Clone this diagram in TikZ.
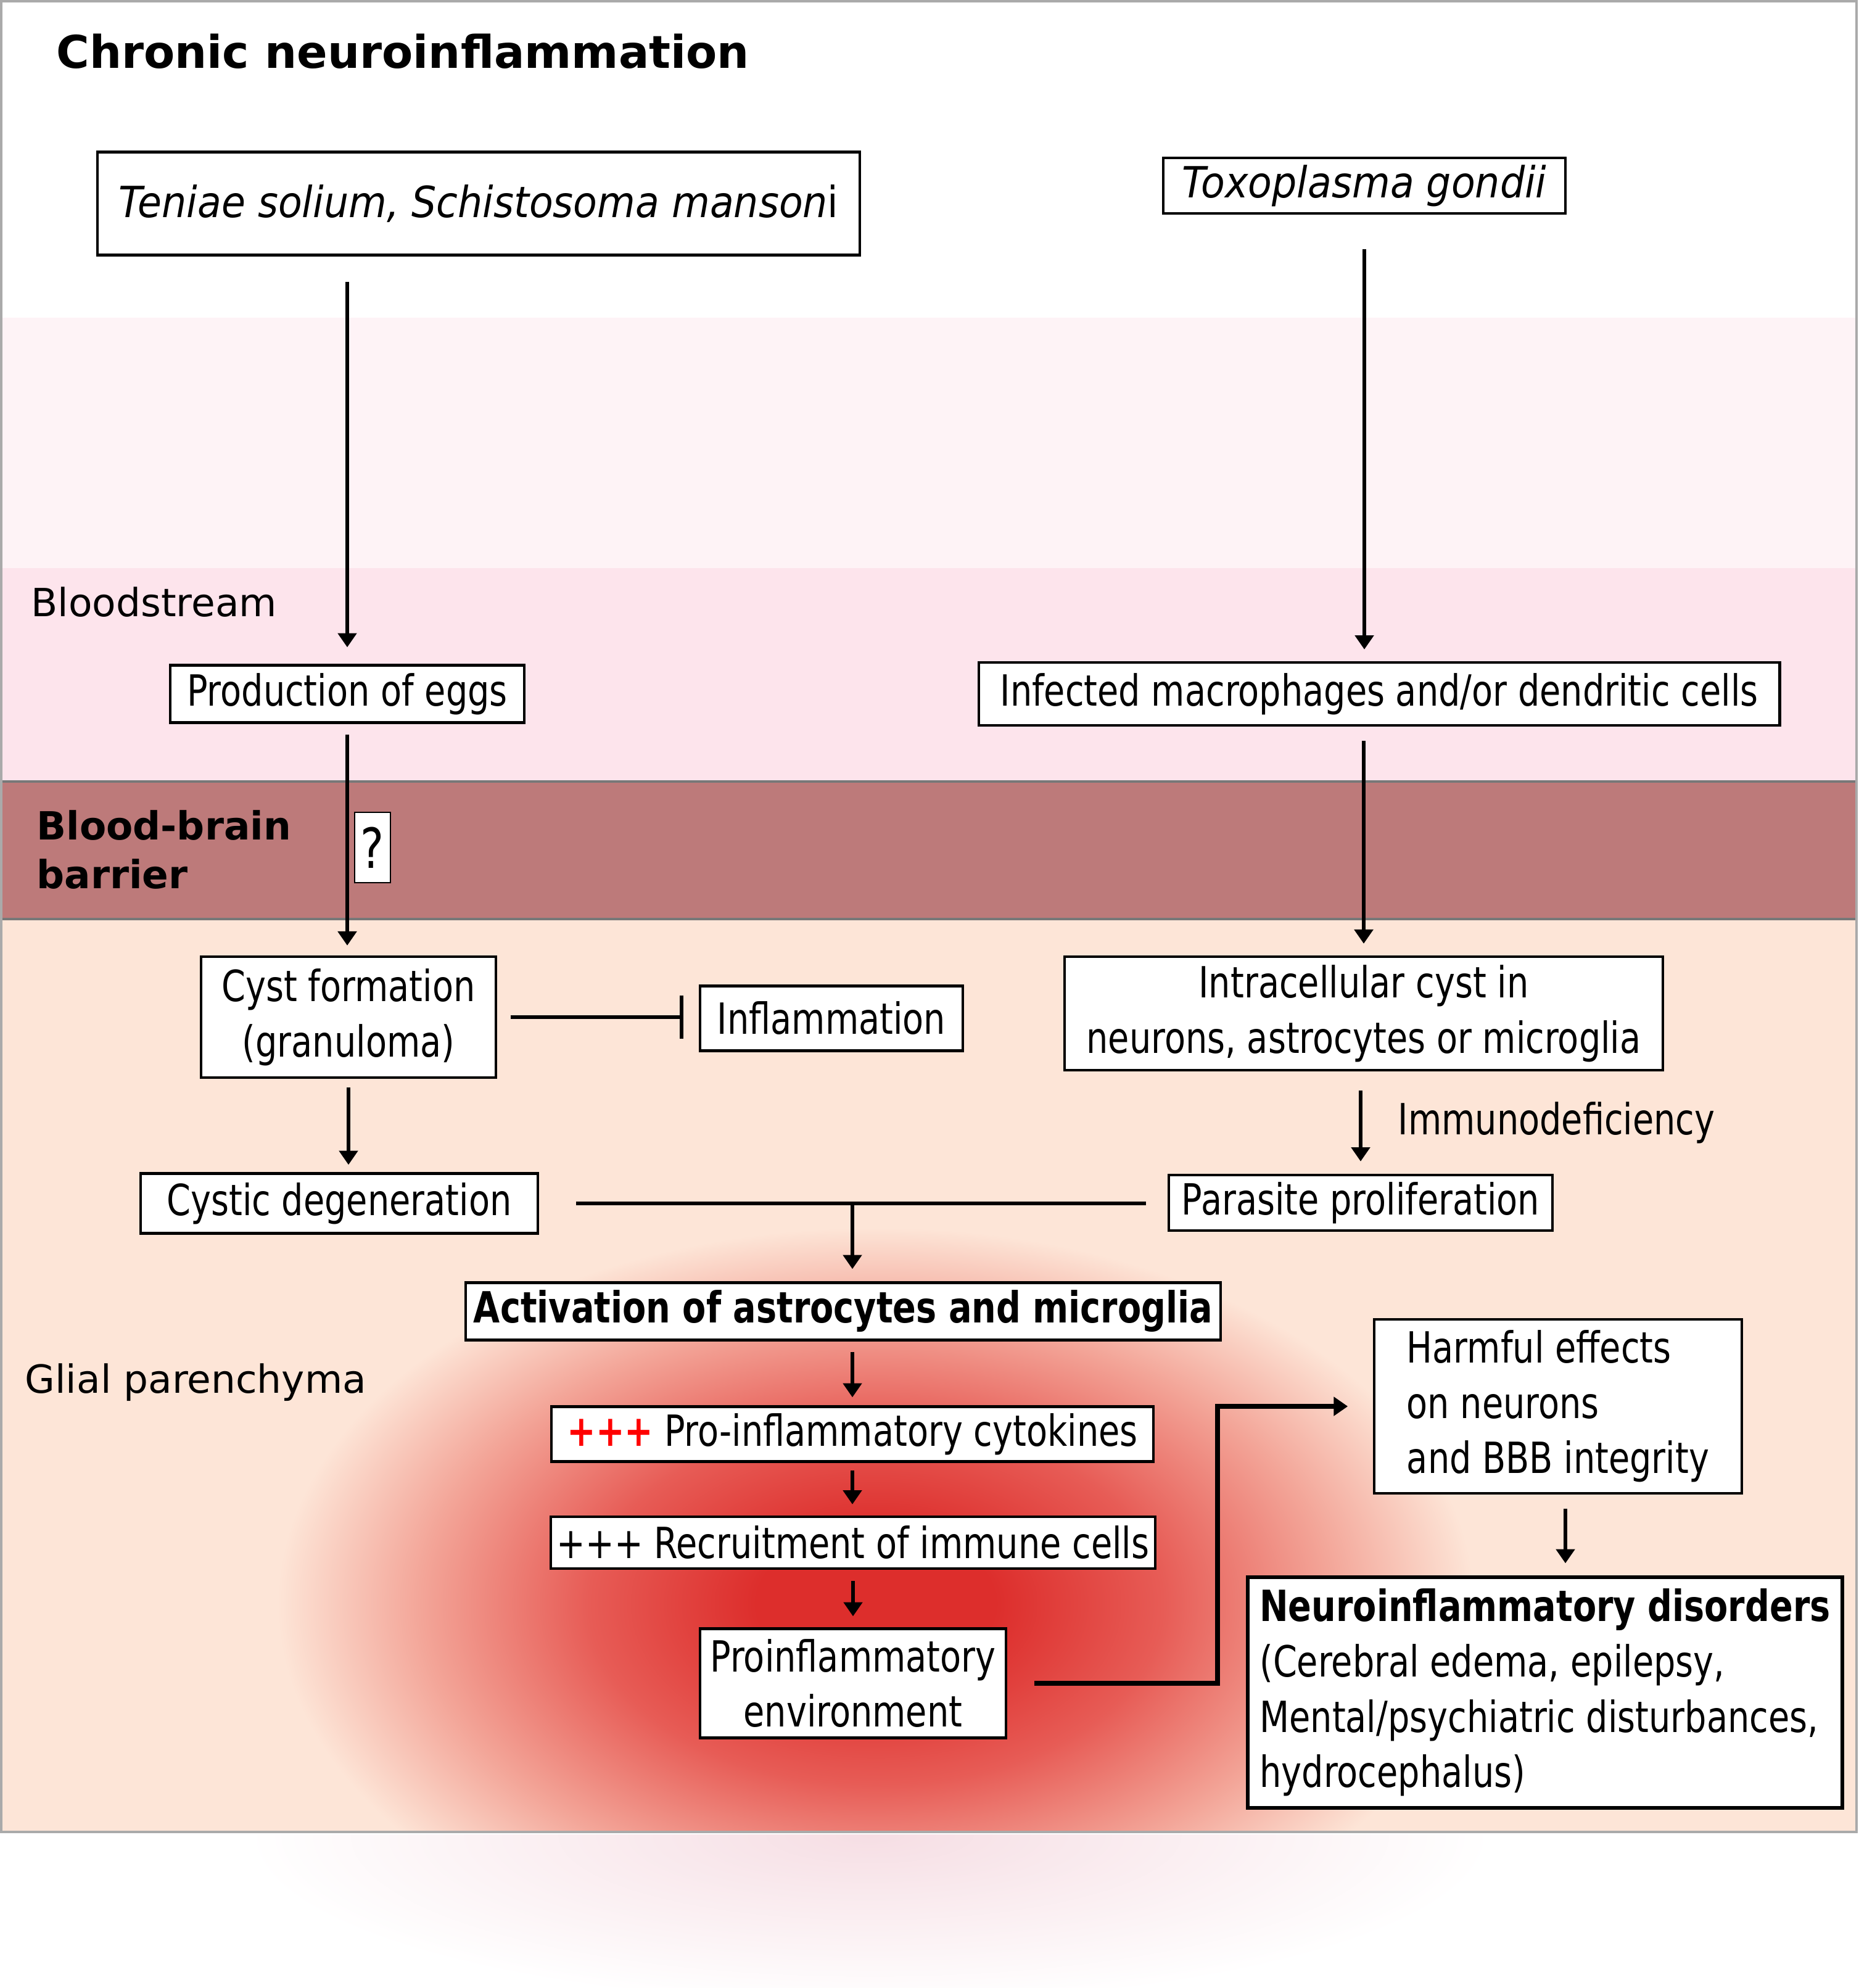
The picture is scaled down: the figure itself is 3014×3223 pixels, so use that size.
\documentclass[tikz,border=0pt]{standalone}
\usepackage{fontspec}
\setmainfont{DejaVu Sans}
\newfontfamily\boxfont[FakeStretch=0.8]{DejaVu Sans}
\newfontfamily\boxitfont[FakeStretch=0.91]{DejaVu Sans}
\usetikzlibrary{arrows.meta,positioning}

\definecolor{paleband}{RGB}{254,243,246}
\definecolor{bloodband}{RGB}{253,228,236}
\definecolor{barrierband}{RGB}{189,122,122}
\definecolor{glialband}{RGB}{253,229,215}
\definecolor{glowcore}{RGB}{221,46,44}
\definecolor{glowmid}{RGB}{231,92,86}
\definecolor{glowsoft}{RGB}{243,165,152}
\definecolor{floorpink}{RGB}{246,222,228}
\definecolor{plusred}{RGB}{255,0,0}
\definecolor{framegray}{RGB}{170,170,170}
\definecolor{edgegray}{RGB}{120,120,120}

\pgfdeclareradialshading{inflamglow}{\pgfpoint{0bp}{0bp}}{color(0bp)=(glowcore); color(5bp)=(glowcore); color(12bp)=(glowmid); color(19bp)=(glowsoft); color(25bp)=(glialband); color(50bp)=(glialband)}
\pgfdeclareradialshading{floorglow}{\pgfpoint{0bp}{0bp}}{color(0bp)=(floorpink); color(25bp)=(white); color(50bp)=(white)}

\newcommand\boxtext{\boxfont\fontsize{19.8}{25.5}\selectfont}
\newcommand\italtext{\boxitfont\itshape\fontsize{19.8}{25.5}\selectfont}
\newcommand\zonetext{\fontsize{17.9}{22.4}\selectfont}

\begin{document}
\begin{tikzpicture}[x=0.01cm, y=-0.01cm,
    box/.style={draw, line width=1.2pt, fill=white, inner sep=0pt, align=center, font=\boxtext},
    flow/.style={line width=1.6pt, -{Triangle[length=6.5pt,width=8.5pt]}},
    zone/.style={anchor=base west, inner sep=0pt, font=\zonetext}]

  \useasboundingbox (0,0) rectangle (3014,3223);

  \fill[paleband] (2,515) rectangle (3010,921);
  \fill[bloodband] (2,921) rectangle (3010,1267);
  \fill[barrierband] (2,1267) rectangle (3010,1490);
  \fill[glialband] (2,1490) rectangle (3010,2970);
  \begin{scope}
    \clip (2,1490) rectangle (3010,2970);
    \shade[shading=inflamglow] (450,1990) rectangle (2390,3210);
  \end{scope}
  \begin{scope}
    \clip (0,2974) rectangle (3014,3223);
    \shade[shading=floorglow] (400,2700) rectangle (2420,3250);
  \end{scope}
  \draw[edgegray, line width=1pt] (2,1267) -- (3010,1267) (2,1490) -- (3010,1490);
  \draw[framegray, line width=1pt] (2,2) rectangle (3010,2970);

  \node[anchor=base west, inner sep=0pt, font=\bfseries\fontsize{20.8}{25}\selectfont] (title) at (91,110) {Chronic neuroinflammation};
  \node[zone] (blood) at (50,999) {Bloodstream};
  \node[zone, anchor=north west, align=left, font=\zonetext\bfseries] (bbb) at (59,1313) {Blood-brain\\barrier};
  \node[zone] (glial) at (40,2258) {Glial parenchyma};

  \node[box, font=\italtext, minimum width=12.36cm, minimum height=1.67cm] (teniae) at (776,330) {Teniae solium, Schistosoma manson{\upshape i}};
  \node[box, font=\italtext, minimum width=6.52cm, minimum height=0.9cm] (toxo) at (2212,301) {Toxoplasma gondii};
  \node[box, minimum width=5.73cm, minimum height=0.93cm] (eggs) at (563,1125) {Production of eggs};
  \node[box, minimum width=12.98cm, minimum height=1.02cm] (infected) at (2236,1125) {Infected macrophages and/or dendritic cells};
  \node[box, line width=0.6pt, minimum width=0.58cm, minimum height=1.14cm, font=\boxfont\fontsize{25.5}{28}\selectfont] (query) at (604,1374) {?};
  \node[box, minimum width=4.77cm, minimum height=1.96cm] (cyst) at (565,1649) {Cyst formation\\(granuloma)};
  \node[box, minimum width=4.26cm, minimum height=1.05cm] (inflam) at (1348,1651) {Inflammation};
  \node[box, minimum width=9.69cm, minimum height=1.84cm] (intracell) at (2211,1643) {Intracellular cyst in\\neurons, astrocytes or microglia};
  \node[box, minimum width=6.44cm, minimum height=0.97cm] (cystic) at (550,1951) {Cystic degeneration};
  \node[box, minimum width=6.22cm, minimum height=0.9cm] (parasite) at (2206,1950) {Parasite proliferation};
  \node[box, font=\boxtext\bfseries, minimum width=12.24cm, minimum height=0.93cm] (activation) at (1367,2126) {Activation of astrocytes and microglia};
  \node[box, minimum width=9.76cm, minimum height=0.89cm] (cytokines) at (1382,2325) {{\color{plusred}\bfseries +++} Pro-inflammatory cytokines};
  \node[box, minimum width=9.79cm, minimum height=0.84cm] (recruit) at (1383,2501) {+++ Recruitment of immune cells};
  \node[box, minimum width=4.95cm, minimum height=1.77cm] (proenv) at (1383,2729) {Proinflammatory\\environment};
  \node[box, align=left, minimum width=5.95cm, minimum height=2.82cm] (harmful) at (2526,2280) {Harmful effects\\on neurons\\and BBB integrity};
  \node[box, line width=1.7pt, align=left, minimum width=9.63cm, minimum height=3.73cm] (disorders) at (2505,2744) {\textbf{Neuroinflammatory disorders}\\(Cerebral edema, epilepsy,\\Mental/psychiatric disturbances,\\hydrocephalus)};

  \path[flow] (teniae.south -| eggs) edge[shorten <=0.41cm, shorten >=0.27cm] (eggs.north);
  \path[flow] (toxo.south) edge[shorten <=0.56cm, shorten >=0.19cm] (toxo.south |- infected.north);
  \path[flow] (eggs.south) edge[shorten <=0.17cm, shorten >=0.16cm] (eggs.south |- cyst.north);
  \path[flow] (intracell.north |- infected.south) edge[shorten <=0.23cm, shorten >=0.19cm] (intracell.north);
  \path[line width=1.6pt, -{Bar[width=20pt]}] (cyst.east) edge[shorten <=0.22cm, shorten >=0.25cm] (cyst.east -| inflam.west);
  \path[flow] (cyst.south) edge[shorten <=0.14cm, shorten >=0.12cm] (cyst.south |- cystic.north);
  \path[flow] (parasite.north |- intracell.south) edge[shorten <=0.31cm, shorten >=0.2cm] node[right=0.58cm, inner sep=0pt, font=\boxtext] (immuno) {Immunodeficiency} (parasite.north);

  \coordinate (join) at (cytokines.north |- cystic.east);
  \draw[line width=1.6pt, shorten <=0.6cm, shorten >=0.35cm] (cystic.east) -- (cystic.east -| parasite.west);
  \path[flow] (join) edge[shorten >=0.2cm] (join |- activation.north);

  \path[flow] (cytokines.north |- activation.south) edge[shorten <=0.17cm, shorten >=0.13cm] (cytokines.north);
  \path[flow] (cytokines.south) edge[shorten <=0.12cm, shorten >=0.18cm] (cytokines.south |- recruit.north);
  \path[flow] (recruit.south) edge[shorten <=0.18cm, shorten >=0.18cm] (recruit.south |- proenv.north);
  \draw[flow, line width=2.2pt, shorten <=0.44cm, shorten >=0.41cm] (proenv.east) -- ++(341,0) |- (harmful.west);
  \path[flow] ([xshift=0.12cm]harmful.south) edge[shorten <=0.23cm, shorten >=0.2cm] ([xshift=0.12cm]harmful.south |- disorders.north);
\end{tikzpicture}
\end{document}
